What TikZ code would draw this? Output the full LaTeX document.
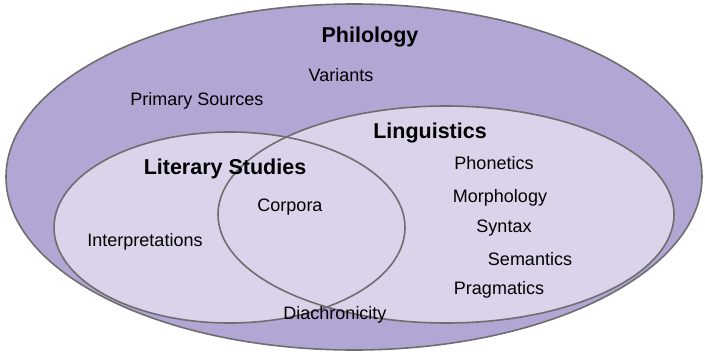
\documentclass[tikz,border=0pt]{standalone}
\usepackage{fontspec}
\setmainfont{Liberation Sans}
\definecolor{outerfill}{HTML}{B2A6D4}
\definecolor{innerfill}{HTML}{DAD3EA}
\definecolor{edgegray}{HTML}{6E6E6E}
\begin{document}
\begin{tikzpicture}[x=1pt,y=-1pt,
  setedge/.style={draw=edgegray,line width=1.6pt},
  head/.style={font=\fontsize{21.5}{24}\selectfont\bfseries,inner sep=0pt},
  item/.style={font=\fontsize{18}{20}\selectfont,inner sep=0pt}]
\useasboundingbox (0,0) rectangle (705,353);
% outer set
\filldraw[setedge,fill=outerfill] (354,177) ellipse [x radius=348,y radius=173];
% inner fills
\fill[innerfill] (229.5,227.5) ellipse [x radius=175.5,y radius=95.5];
\fill[innerfill] (446,214.5) ellipse [x radius=228,y radius=108.5];
% inner edges
\draw[setedge] (229.5,227.5) ellipse [x radius=175.5,y radius=95.5];
\draw[setedge] (446,214.5) ellipse [x radius=228,y radius=108.5];
% labels
\node[head] (philology) at (370,37) {Philology};
\node[item] (variants) at (341,75) {Variants};
\node[item] (primary) at (197,101) {Primary Sources};
\node[head] (linguistics) at (430,133) {Linguistics};
\node[head] (literary) at (225,169) {Literary Studies};
\node[item] (phonetics) at (494,163) {Phonetics};
\node[item] (corpora) at (290,207) {Corpora};
\node[item] (morphology) at (500,198) {Morphology};
\node[item] (syntax) at (504,228) {Syntax};
\node[item] (interp) at (145,242) {Interpretations};
\node[item] (semantics) at (530,259) {Semantics};
\node[item] (pragmatics) at (499,290) {Pragmatics};
\node[item] (diachron) at (335,315) {Diachronicity};
\end{tikzpicture}
\end{document}
